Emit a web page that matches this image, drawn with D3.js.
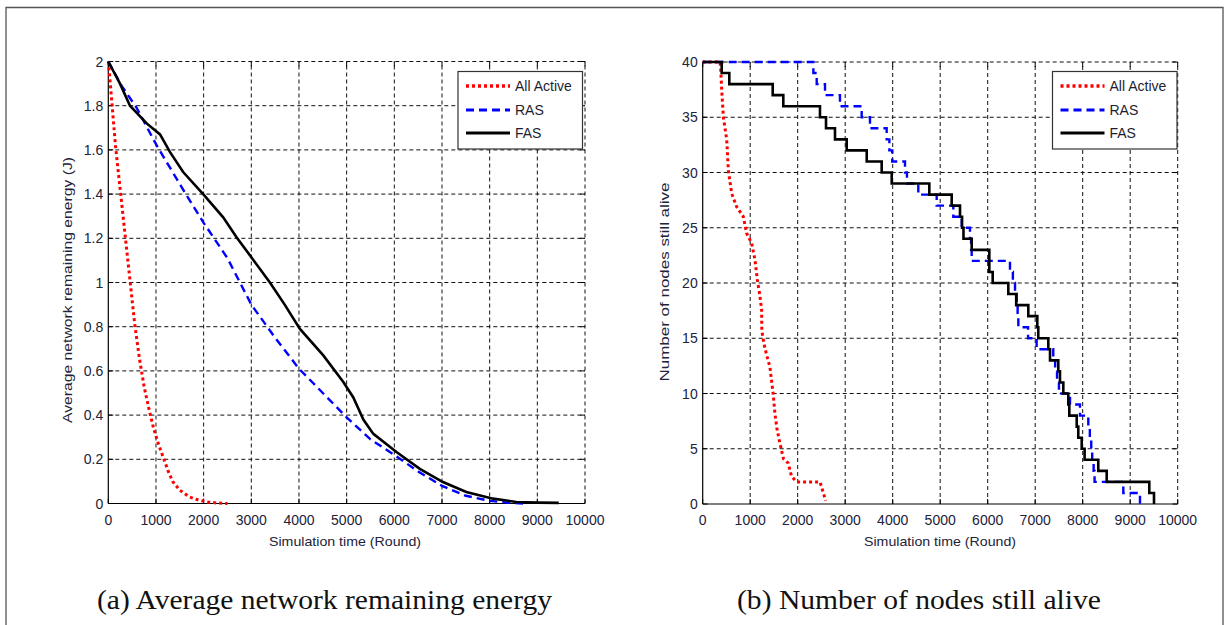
<!DOCTYPE html>
<html><head><meta charset="utf-8">
<script src="https://cdn.jsdelivr.net/npm/d3@7"></script>
<style>
html,body{margin:0;padding:0;background:#fff;}
svg{display:block;}
</style></head>
<body><svg id="c" width="1231" height="625"></svg>
<script>
// ---------- DATA ----------
const xTicks = [0,1000,2000,3000,4000,5000,6000,7000,8000,9000,10000];
const energyTicks = [0,0.2,0.4,0.6,0.8,1,1.2,1.4,1.6,1.8,2];
const energyTickLabels = ["0","0.2","0.4","0.6","0.8","1","1.2","1.4","1.6","1.8","2"];
const nodeTicks = [0,5,10,15,20,25,30,35,40];
const seriesNames = ["All Active","RAS","FAS"];

// (a) average remaining energy
const energyAllActive = [[0,2],[50,1.88],[150,1.62],[250,1.42],[350,1.22],[450,1.02],[550,0.82],[650,0.66],[750,0.53],[850,0.43],[950,0.34],[1050,0.27],[1150,0.21],[1250,0.15],[1350,0.1],[1500,0.06],[1700,0.03],[1900,0.015],[2100,0.006],[2300,0.002],[2500,0]];
const energyRAS = [[0,2],[280,1.89],[595,1.79],[1015,1.62],[1570,1.42],[2000,1.27],[2500,1.11],[3000,0.9],[3500,0.75],[4000,0.61],[4500,0.5],[5000,0.39],[5500,0.29],[6000,0.22],[6500,0.145],[7000,0.08],[7500,0.035],[8000,0.012],[8400,0.003],[8700,0]];
const energyFAS = [[0,2],[245,1.9],[455,1.8],[805,1.72],[1085,1.67],[1295,1.59],[1570,1.5],[1990,1.4],[2410,1.295],[2690,1.205],[3050,1.1],[3390,1.0],[3700,0.9],[4020,0.79],[4510,0.67],[4930,0.55],[5140,0.48],[5350,0.38],[5560,0.315],[6045,0.233],[6535,0.157],[7020,0.097],[7510,0.052],[8070,0.022],[8560,0.007],[9000,0.004],[9450,0.003]];

// (b) nodes still alive
const nodesAllActive = [[0,40],[365,40],[380,39.3],[400,37.5],[435,35],[505,33],[540,30.2],[610,28.1],[715,26.9],[855,26],[925,24.5],[1030,23.6],[1100,22.1],[1150,20.3],[1205,18.8],[1240,17.6],[1245,15.7],[1290,14.5],[1345,13.5],[1415,12.4],[1485,9.9],[1520,8.2],[1560,6.9],[1610,5.8],[1700,4.1],[1800,3.7],[1870,2.5],[1980,2],[2470,2],[2540,1],[2590,0.3]];
const nodesRAS = [[0,40],[2330,39],[2400,38],[2575,37],[2890,36],[3347,35],[3522,34],[3873,33],[3930,32],[3990,31],[4259,30],[4300,29],[4539,28],[4926,27],[5276,26],[5453,25],[5627,24],[5650,23],[5663,22],[6469,21],[6530,20],[6575,19],[6610,18],[6630,17],[6645,16],[6850,15],[7030,14],[7380,13],[7420,12],[7460,11],[7500,10],[7733,9],[7943,8],[8118,7],[8150,6],[8180,5],[8200,4],[8230,3],[8250,2],[8855,1],[9206,0]];
const nodesFAS = [[0,40],[400,39],[560,38],[1474,37],[1697,36],[2469,35],[2596,34],[2785,33],[3031,32],[3453,31],[3768,30],[3979,29],[4771,28],[5242,27],[5417,26],[5460,25],[5490,24],[5663,23],[6034,21],[6105,20],[6434,19],[6600,18],[6855,17],[7044,16],[7065,15],[7276,14],[7312,13],[7486,12],[7522,11],[7592,10],[7697,9],[7718,8],[7874,7],[7907,6],[7979,5],[8040,4],[8328,3],[8505,2],[9402,1],[9501,0]];

// ---------- STYLE ----------
const styles = {
  "All Active": {color:"#ff0000", dash:"3,3", width:3},
  "RAS": {color:"#0000ff", dash:"8,5", width:2.4},
  "FAS": {color:"#000000", dash:null, width:2.6}
};
const tickColor = "#22223a";
const sans = "'Liberation Sans',Arial,sans-serif";
const serif = "'Liberation Serif','DejaVu Serif',serif";

const svg = d3.select("#c");
svg.append("rect").attr("width",1231).attr("height",625).attr("fill","#fff");
svg.append("path").attr("d","M6,625 V7.5 H1223 V625").attr("fill","none").attr("stroke","#555").attr("stroke-width",1.3);

function panel(opt){
  const g = svg.append("g").style("font-family",sans);
  const x = d3.scaleLinear().domain([0,10000]).range([opt.x0,opt.x1]);
  const y = d3.scaleLinear().domain(opt.ydom).range([opt.yb,opt.yt]);
  // grid
  g.append("g").selectAll("line").data(xTicks.slice(1)).join("line")
    .attr("x1",d=>x(d)).attr("x2",d=>x(d)).attr("y1",opt.yb).attr("y2",opt.yt)
    .attr("stroke","#111").attr("stroke-width",1).attr("stroke-dasharray","4,3");
  g.append("g").selectAll("line").data(opt.yticks.slice(1)).join("line")
    .attr("x1",opt.x0).attr("x2",opt.x1).attr("y1",d=>y(d)).attr("y2",d=>y(d))
    .attr("stroke","#111").attr("stroke-width",1).attr("stroke-dasharray","4,3");
  // inward ticks
  const tl=5;
  g.append("g").selectAll("line").data(xTicks).join("line")
    .attr("x1",d=>x(d)).attr("x2",d=>x(d)).attr("y1",opt.yb).attr("y2",opt.yb-tl).attr("stroke","#000");
  g.append("g").selectAll("line").data(xTicks).join("line")
    .attr("x1",d=>x(d)).attr("x2",d=>x(d)).attr("y1",opt.yt).attr("y2",opt.yt+tl).attr("stroke","#000");
  g.append("g").selectAll("line").data(opt.yticks).join("line")
    .attr("x1",opt.x0).attr("x2",opt.x0+tl).attr("y1",d=>y(d)).attr("y2",d=>y(d)).attr("stroke","#000");
  g.append("g").selectAll("line").data(opt.yticks).join("line")
    .attr("x1",opt.x1).attr("x2",opt.x1-tl).attr("y1",d=>y(d)).attr("y2",d=>y(d)).attr("stroke","#000");
  // axis lines (left & bottom)
  g.append("line").attr("x1",opt.x0).attr("x2",opt.x0).attr("y1",opt.yb).attr("y2",opt.yt).attr("stroke","#000").attr("stroke-width",1.2);
  g.append("line").attr("x1",opt.x0).attr("x2",opt.x1).attr("y1",opt.yb).attr("y2",opt.yb).attr("stroke","#000").attr("stroke-width",1.2);
  // tick labels
  g.append("g").selectAll("text").data(xTicks).join("text")
    .attr("x",d=>x(d)).attr("y",opt.yb+21).attr("text-anchor","middle")
    .attr("font-size",14).attr("fill",tickColor).text(d=>String(d));
  g.append("g").selectAll("text").data(opt.yticks).join("text")
    .attr("x",opt.x0-5).attr("y",d=>y(d)+5).attr("text-anchor","end")
    .attr("font-size",14).attr("fill",tickColor).text((d,i)=>opt.ylabels[i]);
  // axis titles
  g.append("text").attr("x",opt.xlx).attr("y",546).attr("text-anchor","middle")
    .attr("font-size",13).attr("fill",tickColor).attr("textLength",152).attr("lengthAdjust","spacingAndGlyphs")
    .text("Simulation time (Round)");
  g.append("text").attr("transform",`translate(${opt.ylx},${opt.yly}) rotate(-90)`).attr("text-anchor","middle")
    .attr("font-size",13).attr("fill",tickColor).attr("textLength",opt.ylen).attr("lengthAdjust","spacingAndGlyphs")
    .text(opt.ytitle);
  // lines
  const lineGen = d3.line().x(d=>x(d[0])).y(d=>y(d[1])).curve(opt.step?d3.curveStepAfter:d3.curveLinear);
  const redGen = d3.line().x(d=>x(d[0])).y(d=>y(d[1]));
  opt.series.forEach((s,i)=>{
    const st = styles[seriesNames[i]];
    g.append("path").datum(s).attr("d", i===0?redGen:lineGen)
      .attr("fill","none").attr("stroke",st.color).attr("stroke-width",st.width)
      .attr("stroke-dasharray",st.dash).attr("stroke-linejoin","miter");
  });
  // legend
  const lg = g.append("g");
  lg.append("rect").attr("x",opt.lx).attr("y",71.5).attr("width",124.5).attr("height",77.5)
    .attr("fill","#fff").attr("stroke","#333").attr("stroke-width",1.2);
  const ly=[86,110,133];
  seriesNames.forEach((n,i)=>{
    const st=styles[n];
    lg.append("line").attr("x1",opt.lx+8).attr("x2",opt.lx+52).attr("y1",ly[i]).attr("y2",ly[i])
      .attr("stroke",st.color).attr("stroke-width",st.width+0.4).attr("stroke-dasharray",st.dash);
    lg.append("text").attr("x",opt.lx+57).attr("y",ly[i]+5).attr("font-size",14).attr("fill","#1e1e30").text(n);
  });
}

panel({x0:108.3,x1:585,yb:503.5,yt:61.5,ydom:[0,2],yticks:energyTicks,ylabels:energyTickLabels,
  xlx:345,ylx:72,yly:290,ylen:266,ytitle:"Average network remaining energy (J)",
  series:[energyAllActive,energyRAS,energyFAS],step:false,lx:458});
panel({x0:702.7,x1:1177.7,yb:504,yt:62,ydom:[0,40],yticks:nodeTicks,ylabels:nodeTicks.map(String),
  xlx:940,ylx:669,yly:282,ylen:199,ytitle:"Number of nodes still alive",
  series:[nodesAllActive,nodesRAS,nodesFAS],step:true,lx:1052.5});

// captions
svg.append("text").attr("x",97).attr("y",609).style("font-family",serif)
  .attr("font-size",27).attr("fill","#111").attr("textLength",455).attr("lengthAdjust","spacingAndGlyphs")
  .text("(a) Average network remaining energy");
svg.append("text").attr("x",737).attr("y",609).style("font-family",serif)
  .attr("font-size",27).attr("fill","#111").attr("textLength",364).attr("lengthAdjust","spacingAndGlyphs")
  .text("(b) Number of nodes still alive");
</script></body></html>
